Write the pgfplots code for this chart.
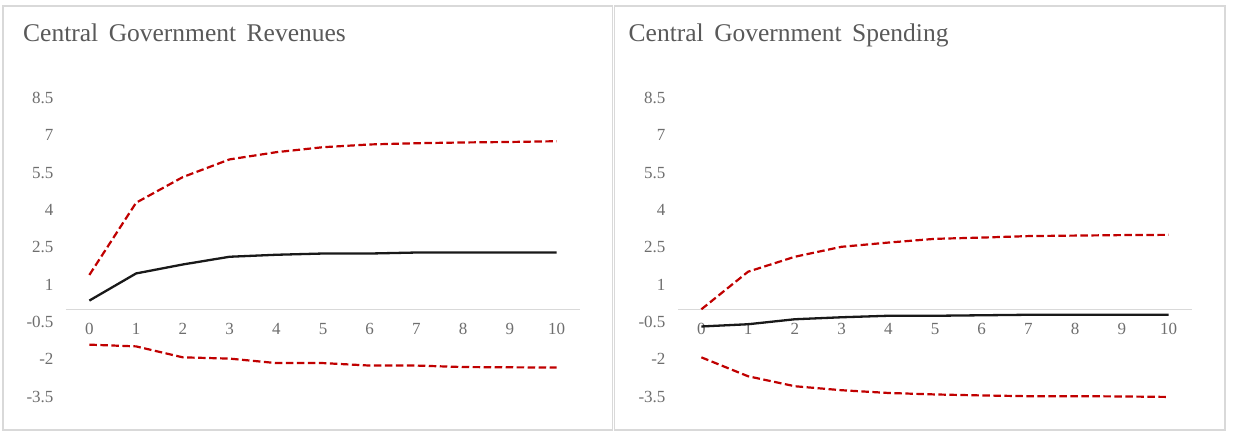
\documentclass[border=0pt]{standalone}
\usepackage{pgfplots}
\pgfplotsset{compat=1.18}
\usepackage{fontspec}
\setmainfont{Liberation Serif}

\definecolor{bandred}{HTML}{C00000}
\definecolor{titlegray}{HTML}{595959}
\definecolor{tickgray}{HTML}{6E6E6E}
\definecolor{framegray}{HTML}{D9D9D9}

% common look of one impulse-response panel
\pgfplotsset{irfpanel/.style={
  scale only axis, width=514pt, height=298.8pt,
  xmin=-0.5, xmax=10.5, ymin=-3.5, ymax=8.5,
  axis x line*=middle, axis y line*=left,
  x axis line style={draw=framegray, line width=1.2pt, -},
  y axis line style={draw=none},
  xtick={0,...,10},
  ytick={-3.5,-2,-0.5,1,2.5,4,5.5,7,8.5},
  yticklabels={-3.5,-2,-0.5,1,2.5,4,5.5,7,8.5},
  tick style={draw=none},
  /pgf/number format/assume math mode=true,
  ticklabel style={font=\fontsize{17}{20}\selectfont, text=tickgray},
  xticklabel style={yshift=-10pt},
  yticklabel style={xshift=-9pt},
  clip=false,
  anchor=south west,
}}
\tikzset{
  band/.style={bandred, line width=2.2pt, dash pattern=on 7.5pt off 3.5pt, line join=round},
  irf/.style={black!90, line width=2.3pt, line join=round},
  paneltitle/.style={anchor=base west, inner sep=0, text=titlegray, font=\fontsize{25.5}{30}\selectfont},
}
\newcommand{\gap}{\hspace{10.5pt}}

\begin{document}
\begin{tikzpicture}
\useasboundingbox (0pt,0pt) rectangle (1235pt,438pt);

% panel frames
\draw[framegray, line width=1.5pt] (3pt,8pt) rectangle (612.5pt,432pt);
\draw[framegray, line width=1.5pt] (614.5pt,8pt) rectangle (1225pt,432pt);

% panel titles
\node[paneltitle] at (23pt,396.3pt) {Central\gap Government\gap Revenues};
\node[paneltitle] at (628.5pt,396.3pt) {Central\gap Government\gap Spending};

% revenues
\begin{axis}[irfpanel, at={(66pt,41.3pt)}]
\addplot[band] coordinates {(0,1.39) (1,4.29) (2,5.32) (3,6.03) (4,6.32) (5,6.52) (6,6.63) (7,6.68) (8,6.71) (9,6.73) (10,6.76)};
\addplot[band] coordinates {(0,-1.41) (1,-1.48) (2,-1.92) (3,-1.97) (4,-2.15) (5,-2.15) (6,-2.25) (7,-2.25) (8,-2.31) (9,-2.32) (10,-2.33)};
\addplot[irf] coordinates {(0,0.36) (1,1.45) (2,1.81) (3,2.12) (4,2.20) (5,2.25) (6,2.25) (7,2.29) (8,2.29) (9,2.29) (10,2.29)};
\end{axis}

% spending
\begin{axis}[irfpanel, at={(678pt,41.3pt)}]
\addplot[band] coordinates {(0,0.01) (1,1.52) (2,2.12) (3,2.52) (4,2.69) (5,2.84) (6,2.89) (7,2.95) (8,2.97) (9,2.99) (10,3.00)};
\addplot[band] coordinates {(0,-1.92) (1,-2.68) (2,-3.08) (3,-3.24) (4,-3.35) (5,-3.41) (6,-3.45) (7,-3.48) (8,-3.48) (9,-3.49) (10,-3.51)};
\addplot[irf] coordinates {(0,-0.68) (1,-0.59) (2,-0.39) (3,-0.31) (4,-0.25) (5,-0.25) (6,-0.23) (7,-0.21) (8,-0.21) (9,-0.21) (10,-0.21)};
\end{axis}
\end{tikzpicture}
\end{document}
